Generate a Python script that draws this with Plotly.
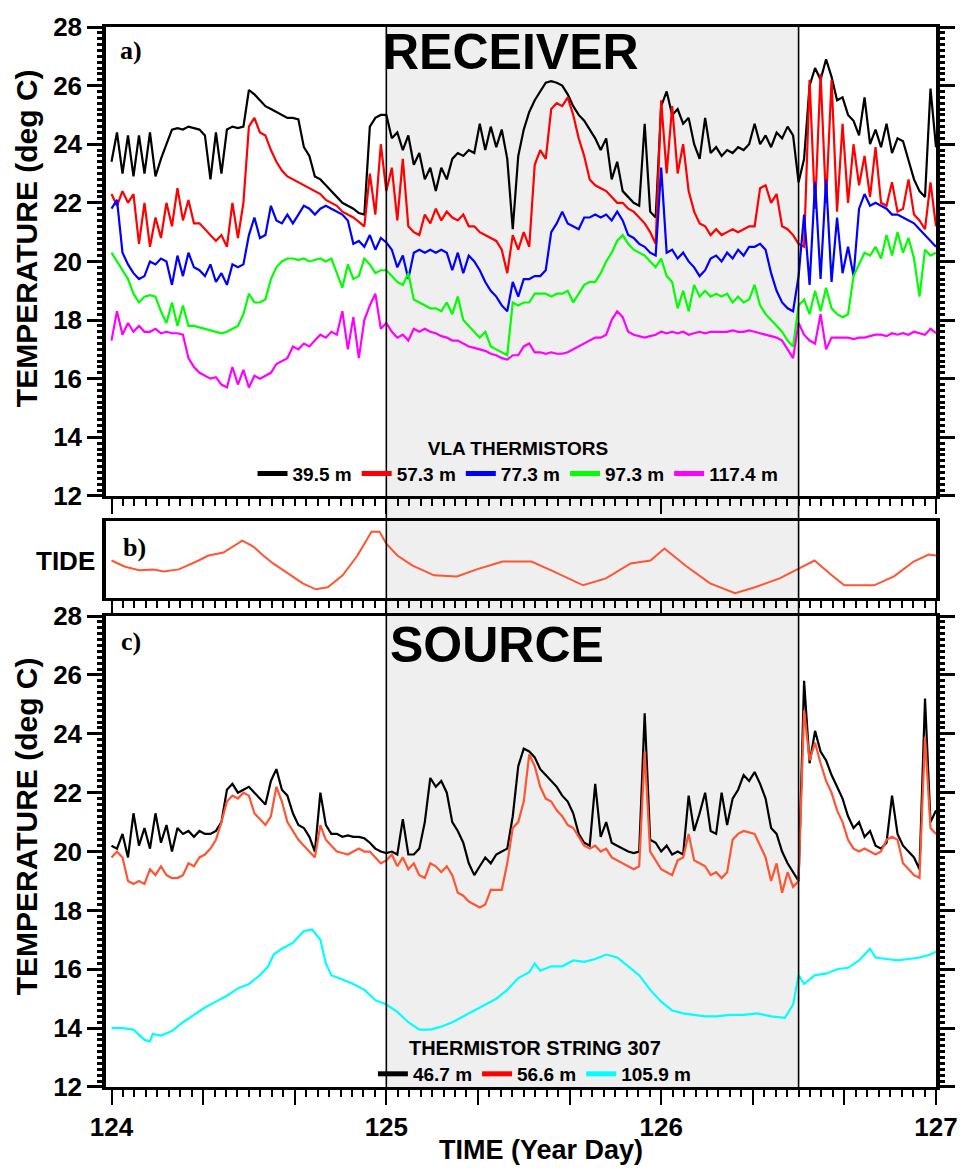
import numpy as np
import plotly.graph_objects as go

# ---------------- data ----------------
sample_days = np.round(np.arange(124.0, 127.0001, 0.02), 2)

window_days = [125.0, 126.5]

rx_labels = ["39.5 m", "57.3 m", "77.3 m", "97.3 m", "117.4 m"]
rx_colors = ["#000000", "#ff0000", "#0000ff", "#00ff00", "#ff00ff"]

rx_39_5 = [
    23.4, 24.4, 23.0, 24.3, 22.9, 24.3, 23.0, 24.4, 22.9, 23.5,
    24.0, 24.5, 24.55, 24.5, 24.6, 24.55, 24.5, 24.3, 22.8, 24.4,
    23.0, 24.5, 24.6, 24.55, 24.6, 25.85, 25.7, 25.5, 25.3, 25.2,
    25.1, 25.0, 24.9, 24.9, 24.85, 23.9, 23.6, 22.9, 22.8, 22.6,
    22.4, 22.2, 22.0, 21.9, 21.8, 21.65, 21.6, 24.6, 24.9, 25.0,
    25.0, 24.2, 24.4, 23.8, 24.3, 23.3, 23.7, 22.8, 23.2, 22.4,
    23.2, 22.8, 23.5, 23.7, 23.6, 23.8, 23.7, 24.7, 23.8, 24.6,
    23.9, 24.5, 23.5, 21.1, 23.6, 24.5, 25.1, 25.5, 25.8, 26.1,
    26.15, 26.1, 26.0, 25.7, 25.3, 25.0, 24.8, 24.5, 24.2, 23.8,
    24.2, 22.8, 23.4, 22.4, 22.2, 22.0, 21.9, 24.7, 21.7, 21.5,
    25.3, 25.8, 25.0, 25.2, 24.7, 24.9, 24.0, 23.5, 24.9, 23.7,
    23.9, 23.6, 23.8, 23.7, 23.9, 23.8, 24.0, 24.7, 24.0, 24.3,
    23.9, 24.4, 24.2, 24.6, 24.3, 22.7, 23.5, 26.0, 26.6, 26.2,
    26.9, 26.3, 25.5, 25.6, 25.0, 24.8, 24.3, 25.6, 24.0, 24.5,
    23.9, 24.7, 23.7, 24.2, 24.1, 23.4, 22.8, 22.4, 22.2, 25.9,
    23.9]

rx_57_3 = [
    22.3, 21.9, 22.4, 22.0, 22.3, 20.6, 22.0, 20.5, 21.5, 20.8,
    22.0, 21.2, 22.5, 21.4, 22.1, 21.3, 21.3, 21.1, 20.9, 20.7,
    20.9, 20.5, 22.0, 20.8, 22.0, 24.6, 24.9, 24.4, 24.3, 23.8,
    23.4, 23.1, 22.9, 22.8, 22.7, 22.6, 22.5, 22.4, 22.3, 22.1,
    22.0, 21.9, 21.7, 21.6, 21.5, 21.35, 21.2, 23.0, 21.6, 24.0,
    22.4, 23.2, 21.4, 23.5, 21.2, 21.0, 20.9, 21.6, 21.3, 21.8,
    21.4, 21.7, 21.5, 21.4, 21.6, 21.2, 21.2, 21.0, 20.9, 20.8,
    20.7, 20.4, 19.6, 20.9, 20.4, 21.0, 20.5, 23.3, 23.8, 23.5,
    25.2, 25.4, 25.3, 25.6, 25.0, 24.2, 23.6, 22.8, 22.6, 22.5,
    22.4, 22.2, 22.0, 22.0, 21.8, 21.7, 21.5, 21.3, 21.0, 20.6,
    25.5, 23.0, 25.3, 23.0, 24.0, 22.4, 21.7, 21.3, 21.2, 20.9,
    21.1, 20.9, 21.0, 21.1, 21.0, 21.1, 21.2, 21.2, 22.5, 22.6,
    22.0, 22.3, 21.2, 21.1, 20.9, 20.6, 20.5, 26.2, 21.8, 26.4,
    22.0, 26.2, 21.7, 24.7, 22.0, 24.0, 22.6, 23.6, 22.2, 23.9,
    22.0, 21.9, 22.7, 21.7, 21.8, 22.8, 21.6, 21.4, 21.1, 22.7,
    21.2]

rx_77_3 = [
    21.8, 22.1, 20.3, 19.9, 19.6, 19.4, 19.5, 20.0, 19.9, 20.1,
    20.0, 19.2, 20.2, 19.5, 20.3, 19.8, 19.7, 19.5, 19.9, 19.3,
    19.6, 19.2, 19.9, 19.8, 19.9, 20.9, 21.5, 20.8, 20.9, 21.9,
    21.4, 21.3, 21.6, 21.3, 21.6, 21.9, 21.8, 21.6, 21.8, 21.9,
    21.8, 21.7, 21.6, 21.4, 20.6, 20.7, 20.5, 20.9, 20.4, 20.8,
    20.65, 20.4, 19.8, 20.2, 19.4, 20.3, 20.4, 20.3, 20.4, 20.3,
    20.4, 20.3, 19.7, 20.3, 19.6, 20.2, 20.0, 19.7, 19.3, 19.0,
    18.8, 18.5, 18.3, 19.3, 18.8, 19.4, 19.4, 19.5, 19.5, 19.7,
    21.0, 21.3, 21.7, 21.3, 21.2, 21.1, 21.5, 21.5, 21.6, 21.5,
    21.6, 21.4, 21.7, 21.4, 20.9, 20.8, 20.6, 20.5, 20.3, 20.2,
    23.2, 20.3, 20.4, 20.1, 20.3, 20.0, 19.8, 19.5, 19.7, 20.1,
    20.2, 20.0, 20.3, 20.1, 20.4, 20.2, 20.5, 20.5, 20.6, 20.4,
    19.6, 19.0, 18.6, 18.4, 18.3, 19.5, 21.6, 19.2, 22.7, 19.4,
    22.8, 19.3, 21.5, 19.6, 20.5, 19.5, 21.8, 22.3, 21.9, 22.0,
    21.9, 21.8, 21.6, 21.6, 21.5, 21.4, 21.3, 21.1, 20.9, 20.7,
    20.5]

rx_97_3 = [
    20.3, 20.0, 19.7, 19.4, 18.9, 18.6, 18.8, 18.85, 18.8, 18.3,
    17.9, 18.6, 17.8, 18.5, 17.8, 17.8, 17.75, 17.7, 17.65, 17.6,
    17.55, 17.6, 17.7, 17.8, 18.2, 18.9, 18.6, 18.6, 18.7, 19.4,
    19.8, 20.0, 20.1, 20.1, 20.05, 20.1, 20.0, 20.05, 20.1, 20.0,
    20.1, 19.6, 19.1, 19.9, 19.4, 19.5, 20.1, 19.9, 19.6, 19.7,
    19.7, 19.5, 19.3, 19.2, 19.6, 18.7, 18.6, 18.5, 18.4, 18.4,
    18.3, 18.6, 18.2, 18.8, 18.0, 17.8, 17.6, 17.4, 17.6, 17.1,
    17.0, 16.9, 16.8, 18.6, 18.5, 18.6, 18.6, 18.9, 18.9, 18.9,
    18.8, 18.9, 18.9, 19.0, 18.6, 18.9, 19.2, 19.3, 19.3, 19.6,
    20.0, 20.3, 20.7, 20.9, 20.6, 20.4, 20.3, 20.2, 20.0, 19.8,
    20.1, 19.5, 19.3, 18.4, 19.0, 18.3, 19.2, 18.8, 19.0, 18.8,
    18.9, 18.8, 18.9, 18.6, 18.8, 18.6, 18.7, 19.2, 18.5, 18.2,
    18.0, 17.8, 17.6, 17.3, 17.1, 18.5, 18.7, 18.2, 19.0, 18.3,
    19.1, 18.4, 18.2, 18.1, 18.2, 19.5, 19.9, 20.3, 20.2, 20.5,
    20.1, 20.9, 20.2, 21.0, 20.3, 20.8, 20.1, 18.8, 20.4, 20.2,
    20.3]

rx_117_4 = [
    17.3, 18.3, 17.5, 17.9, 17.6, 17.8, 17.6, 17.6, 17.7, 17.55,
    17.6, 17.55, 17.55, 17.5, 16.7, 16.4, 16.2, 16.1, 16.0, 16.05,
    15.8, 15.7, 16.4, 15.8, 16.3, 15.7, 16.1, 16.0, 16.1, 16.2,
    16.5, 16.6, 16.7, 17.1, 17.0, 17.2, 17.1, 17.3, 17.5, 17.4,
    17.6, 17.5, 18.3, 17.0, 18.1, 16.7, 18.0, 18.5, 18.9, 17.7,
    17.9, 17.6, 17.4, 17.5, 17.3, 17.7, 17.6, 17.7, 17.6, 17.55,
    17.45, 17.4, 17.3, 17.3, 17.2, 17.1, 17.05, 17.0, 16.95, 16.85,
    16.8, 16.7, 16.65, 16.8, 16.8, 17.1, 17.2, 16.9, 16.9, 16.85,
    16.9, 16.85, 16.85, 16.9, 17.0, 17.1, 17.2, 17.3, 17.4, 17.4,
    17.5, 18.0, 18.3, 18.1, 17.6, 17.5, 17.45, 17.4, 17.45, 17.5,
    17.6, 17.55, 17.6, 17.55, 17.6, 17.5, 17.55, 17.6, 17.55, 17.6,
    17.6, 17.6, 17.6, 17.65, 17.6, 17.6, 17.65, 17.6, 17.55, 17.5,
    17.45, 17.4, 17.3, 17.0, 16.7, 17.9, 17.5, 17.3, 17.2, 18.2,
    17.0, 17.4, 17.4, 17.4, 17.4, 17.35, 17.4, 17.4, 17.45, 17.5,
    17.5, 17.45, 17.55, 17.5, 17.55, 17.5, 17.6, 17.55, 17.5, 17.7,
    17.55]

tide_day = [
    124.0, 124.047, 124.1, 124.154, 124.19, 124.245, 124.317, 124.353,
    124.407, 124.476, 124.516, 124.552, 124.588, 124.642, 124.696, 124.743,
    124.787, 124.841, 124.895, 124.946, 124.975, 125.0, 125.04, 125.094,
    125.173, 125.257, 125.329, 125.423, 125.528, 125.6, 125.716, 125.799,
    125.889, 125.961, 126.012, 126.088, 126.178, 126.269, 126.341, 126.431,
    126.5, 126.558, 126.612, 126.666, 126.775, 126.847, 126.919, 126.973, 127.0]
tide_level = [
    0.487, 0.41, 0.36, 0.372, 0.346, 0.372, 0.487, 0.551,
    0.59, 0.744, 0.667, 0.551, 0.449, 0.321, 0.192, 0.115,
    0.141, 0.295, 0.551, 0.859, 0.859, 0.705, 0.551, 0.423,
    0.295, 0.282, 0.372, 0.474, 0.474, 0.359, 0.167, 0.256,
    0.449, 0.487, 0.641, 0.423, 0.192, 0.064, 0.141, 0.256,
    0.385, 0.487, 0.321, 0.167, 0.167, 0.282, 0.474, 0.564, 0.551]

src_labels = ["46.7 m", "56.6 m", "105.9 m"]
src_colors = ["#000000", "#ff5533", "#00ffff"]
src_legend_colors = ["#000000", "#ff0000", "#00ffff"]

src_46_7 = [
    20.2, 20.1, 20.6, 19.8, 21.3, 20.2, 20.8, 20.1, 21.3, 20.3,
    20.9, 20.0, 20.8, 20.6, 20.7, 20.5, 20.7, 20.6, 20.6, 20.7,
    21.0, 22.1, 22.3, 22.0, 22.1, 22.2, 22.0, 21.8, 21.6, 22.4,
    22.8, 22.1, 21.9, 21.3, 20.9, 20.8, 20.5, 20.0, 22.0, 20.9,
    20.6, 20.6, 20.5, 20.55, 20.5, 20.5, 20.45, 20.3, 20.1, 20.0,
    19.95, 20.0, 19.9, 21.1, 19.9, 19.9, 20.1, 21.0, 22.5, 22.2,
    22.4, 22.0, 21.0, 20.7, 20.3, 19.6, 19.2, 19.5, 19.8, 19.6,
    19.9, 20.0, 20.1, 21.2, 22.9, 23.5, 23.4, 23.2, 22.8, 22.6,
    22.4, 22.2, 21.9, 21.7, 21.3, 20.6, 20.3, 20.2, 22.3, 20.5,
    21.0, 20.3, 20.2, 20.1, 20.0, 19.95, 20.0, 24.7, 20.4, 20.3,
    20.0, 20.2, 19.9, 20.0, 19.9, 21.9, 20.7, 21.3, 22.0, 20.7,
    20.6, 22.0, 20.9, 21.8, 22.1, 22.6, 22.4, 22.7, 22.3, 21.8,
    20.8, 20.6, 20.0, 19.6, 19.3, 19.0, 25.8, 23.0, 24.1, 23.4,
    23.1, 22.6, 22.2, 21.8, 21.2, 20.8, 21.0, 20.5, 20.7, 20.2,
    20.1, 20.3, 21.9, 20.6, 20.2, 20.0, 19.8, 19.4, 25.2, 21.0,
    21.4]

src_56_6 = [
    19.8, 20.0, 19.8, 19.0, 18.9, 19.0, 18.9, 19.4, 19.2, 19.5,
    19.2, 19.1, 19.1, 19.2, 19.6, 19.5, 19.8, 19.9, 20.1, 20.4,
    21.0, 21.7, 21.9, 21.8, 22.0, 21.9, 21.3, 21.1, 20.9, 21.2,
    22.2, 21.7, 21.0, 20.7, 20.4, 20.2, 20.0, 19.8, 20.9, 20.4,
    20.2, 20.0, 19.95, 19.9, 20.0, 20.1, 20.0, 20.0, 19.8, 19.6,
    19.7, 19.9, 19.5, 19.8, 19.4, 19.6, 19.2, 19.1, 19.6, 19.5,
    19.3, 19.5, 19.2, 18.6, 18.5, 18.3, 18.2, 18.1, 18.2, 18.7,
    18.7, 18.7, 19.6, 20.8, 21.0, 21.7, 23.3, 22.9, 22.2, 21.8,
    21.7, 21.4, 21.2, 20.9, 20.8, 20.5, 20.2, 20.1, 20.2, 20.0,
    20.1, 19.8, 19.7, 19.6, 19.5, 19.4, 19.5, 23.4, 20.0, 19.7,
    19.4, 19.3, 19.2, 19.7, 19.8, 20.6, 19.7, 19.6, 19.5, 19.2,
    19.3, 19.1, 19.3, 20.4, 20.6, 20.7, 20.65, 20.6, 20.2, 19.8,
    19.0, 19.6, 18.6, 19.3, 18.8, 19.0, 24.8, 23.1, 23.7, 23.0,
    22.4, 22.0, 21.4, 21.0, 20.4, 20.1, 20.0, 20.1, 20.0, 19.9,
    20.0, 20.4, 20.5, 20.4, 19.6, 19.4, 19.2, 19.1, 23.9, 20.8,
    20.6]

src_105_9_day = [
    124.0, 124.04, 124.08, 124.12, 124.14, 124.15, 124.18, 124.22, 124.26, 124.3,
    124.34, 124.38, 124.42, 124.46, 124.5, 124.54, 124.57, 124.59, 124.62, 124.66,
    124.7, 124.73, 124.76, 124.78, 124.8, 124.84, 124.88, 124.92, 124.96, 125.0,
    125.04, 125.08, 125.12, 125.16, 125.2, 125.24, 125.28, 125.32, 125.36, 125.4,
    125.44, 125.48, 125.52, 125.54, 125.56, 125.6, 125.64, 125.68, 125.72, 125.76,
    125.8, 125.84, 125.88, 125.92, 125.96, 126.0, 126.04, 126.08, 126.12, 126.16,
    126.2, 126.25, 126.3, 126.35, 126.4, 126.45, 126.48, 126.5, 126.52, 126.56,
    126.6, 126.64, 126.68, 126.72, 126.76, 126.78, 126.82, 126.86, 126.9, 126.94,
    126.98, 127.0]
src_105_9 = [
    14.0, 14.0, 13.95, 13.6, 13.55, 13.8, 13.75, 13.9, 14.2, 14.45,
    14.7, 14.9, 15.1, 15.35, 15.5, 15.8, 16.1, 16.5, 16.7, 16.9,
    17.3, 17.35, 17.0, 16.2, 15.8, 15.65, 15.5, 15.3, 14.95, 14.8,
    14.55, 14.2, 13.95, 13.95, 14.05, 14.2, 14.4, 14.6, 14.8, 15.0,
    15.3, 15.7, 15.9, 16.2, 15.95, 16.1, 16.1, 16.3, 16.25, 16.35,
    16.5, 16.4, 16.1, 15.8, 15.3, 14.9, 14.6, 14.5, 14.45, 14.4,
    14.4, 14.45, 14.45, 14.5, 14.4, 14.35, 14.8, 15.8, 15.5, 15.8,
    15.85, 16.0, 16.05, 16.3, 16.7, 16.4, 16.35, 16.3, 16.35, 16.4,
    16.5, 16.6]

day_labels = [124, 125, 126, 127]
temp_range = [12, 28]

# ---------------- figure ----------------
fig = go.Figure()

rx_series = [rx_39_5, rx_57_3, rx_77_3, rx_97_3, rx_117_4]
for lab, col, vals in zip(rx_labels, rx_colors, rx_series):
    fig.add_trace(go.Scatter(x=sample_days, y=vals, mode="lines",
                             line=dict(color=col, width=2.2), showlegend=False,
                             xaxis="x", yaxis="y", hoverinfo="skip"))
for lab, col in zip(rx_labels, rx_colors):
    fig.add_trace(go.Scatter(x=[None], y=[None], mode="lines", name=lab,
                             line=dict(color=col, width=5), legend="legend",
                             xaxis="x", yaxis="y"))

fig.add_trace(go.Scatter(x=tide_day, y=tide_level, mode="lines",
                         line=dict(color="#ff5533", width=2), showlegend=False,
                         xaxis="x2", yaxis="y2"))

src_series = [(sample_days, src_46_7), (sample_days, src_56_6),
              (src_105_9_day, src_105_9)]
for col, (xs, ys) in zip(src_colors, src_series):
    fig.add_trace(go.Scatter(x=xs, y=ys, mode="lines",
                             line=dict(color=col, width=2.2), showlegend=False,
                             xaxis="x3", yaxis="y3"))
for lab, col in zip(src_labels, src_legend_colors):
    fig.add_trace(go.Scatter(x=[None], y=[None], mode="lines", name=lab,
                             line=dict(color=col, width=5), legend="legend2",
                             xaxis="x3", yaxis="y3"))

# empty traces so the overlay minor-tick axes are drawn
for xa, ya in (("x", "y4"), ("x3", "y5")):
    fig.add_trace(go.Scatter(x=[None], y=[None], mode="lines", showlegend=False,
                             xaxis=xa, yaxis=ya, hoverinfo="skip"))

FONT = "Liberation Sans"
X0, X1, Y0, Y1 = 106, 942, 20, 1087
W, H = 970, 1176


def xp(px):
    return (px - X0) / (X1 - X0)


def yp(py):
    return 1 - (py - Y0) / (Y1 - Y0)


major_days = [day_labels[0] + k / 3 for k in range(3 * (day_labels[-1] - day_labels[0]) + 1)]
major_text = [str(int(round(d))) if abs(d - round(d)) < 1e-6 else "" for d in major_days]
xrange = [123.98, 127.0]

# tick positions (axis furniture only)
minor_temps = [round(temp_range[0] + 0.2 * k, 1) for k in range(81)]
major_temps = list(range(temp_range[0], temp_range[1] + 1, 2))

xcommon = dict(range=xrange, showline=True, linecolor="black", linewidth=3,
               mirror=True, showgrid=False, zeroline=False,
               tickmode="array", tickvals=major_days, ticktext=major_text,
               ticks="outside", ticklen=15, tickwidth=2, tickcolor="black",
               minor=dict(tickmode="linear", tick0=124, dtick=1 / 24,
                          ticks="outside", ticklen=7, tickwidth=2,
                          tickcolor="black"))

ycommon = dict(range=temp_range, showline=True, linecolor="black", linewidth=3.5,
               mirror="allticks", showgrid=False, zeroline=False,
               tickmode="array", tickvals=major_temps,
               ticktext=[str(t) for t in major_temps],
               ticks="outside", ticklen=15, tickwidth=2.5, tickcolor="black",
               tickfont=dict(family=FONT, size=26, color="black", weight="bold"))

yminor = dict(range=temp_range, showline=False, mirror="allticks", showgrid=False,
              zeroline=False, tickmode="array", tickvals=minor_temps,
              ticks="outside", ticklen=8, tickwidth=2.5, tickcolor="black",
              showticklabels=False)

fig.update_layout(
    width=W, height=H,
    margin=dict(l=X0, r=W - X1, t=Y0, b=H - Y1),
    paper_bgcolor="white", plot_bgcolor="rgba(0,0,0,0)",
    font=dict(family=FONT, color="black"),
    xaxis=dict(**xcommon, domain=[0, 1], anchor="y", showticklabels=False),
    yaxis=dict(**ycommon, domain=[yp(492), 1], anchor="x"),
    yaxis4=dict(**yminor, overlaying="y", anchor="x", side="left"),
    xaxis2=dict(**xcommon, domain=[0, 1], anchor="y2", showticklabels=False),
    yaxis2=dict(range=[0, 1], domain=[yp(595), yp(517)], anchor="x2",
                showline=True, linecolor="black", linewidth=3.5, mirror=True,
                showgrid=False, zeroline=False, showticklabels=False, ticks=""),
    xaxis3=dict(**xcommon, domain=[0, 1], anchor="y3", showticklabels=True,
                tickfont=dict(family=FONT, size=26, color="black", weight="bold")),
    yaxis3=dict(**ycommon, domain=[0, yp(613)], anchor="x3"),
    yaxis5=dict(**yminor, overlaying="y3", anchor="x3", side="left"),
    legend=dict(orientation="h", x=xp(521), xanchor="center",
                y=yp(489), yanchor="bottom", bgcolor="rgba(0,0,0,0)",
                font=dict(family=FONT, size=19, color="black", weight="bold"),
                title=dict(text="VLA THERMISTORS", side="top center",
                           font=dict(family=FONT, size=19, color="black", weight="bold")),
                itemwidth=30, tracegroupgap=0),
    legend2=dict(orientation="h", x=xp(538), xanchor="center",
                 y=yp(1093), yanchor="bottom", bgcolor="rgba(0,0,0,0)",
                 font=dict(family=FONT, size=19, color="black", weight="bold"),
                 title=dict(text="THERMISTOR STRING 307", side="top center",
                            font=dict(family=FONT, size=20, color="black", weight="bold")),
                 itemwidth=30, tracegroupgap=0),
)

# observation window shading and bounding lines
fig.add_shape(type="rect", xref="x", yref="paper", x0=window_days[0], x1=window_days[1],
              y0=0, y1=1, fillcolor="#efefef", line=dict(width=0), layer="below")
for d in window_days:
    fig.add_shape(type="line", xref="x", yref="paper", x0=d, x1=d, y0=0, y1=1,
                  line=dict(color="black", width=1.6), layer="above")

ann = []
serif = "Liberation Serif"
ann.append(dict(text="<b>a)</b>", x=xp(118), y=yp(44), xanchor="left", yanchor="middle",
                font=dict(family=serif, size=26, color="black")))
ann.append(dict(text="<b>b)</b>", x=xp(121), y=yp(544), xanchor="left", yanchor="middle",
                font=dict(family=serif, size=26, color="black")))
ann.append(dict(text="<b>c)</b>", x=xp(119), y=yp(639), xanchor="left", yanchor="middle",
                font=dict(family=serif, size=26, color="black")))
ann.append(dict(text="<b>RECEIVER</b>", x=xp(514), y=yp(45), xanchor="center", yanchor="middle",
                font=dict(family=FONT, size=50, color="black")))
ann.append(dict(text="<b>SOURCE</b>", x=xp(500), y=yp(642), xanchor="center", yanchor="middle",
                font=dict(family=FONT, size=50, color="black")))
ann.append(dict(text="<b>TIDE</b>", x=xp(97), y=yp(558), xanchor="right", yanchor="middle",
                font=dict(family=FONT, size=26, color="black")))
for cy in (233, 825):
    ann.append(dict(text="<b>TEMPERATURE (deg C)</b>", x=xp(26), y=yp(cy),
                    xanchor="center", yanchor="middle", textangle=-90,
                    font=dict(family=FONT, size=30, color="black")))
ann.append(dict(text="<b>TIME (Year Day)</b>", x=xp(544), y=yp(1150), xanchor="center",
                yanchor="middle", font=dict(family=FONT, size=27, color="black")))
for a in ann:
    a.update(xref="paper", yref="paper", showarrow=False)
fig.update_layout(annotations=ann)

fig.write_html("out.html")
